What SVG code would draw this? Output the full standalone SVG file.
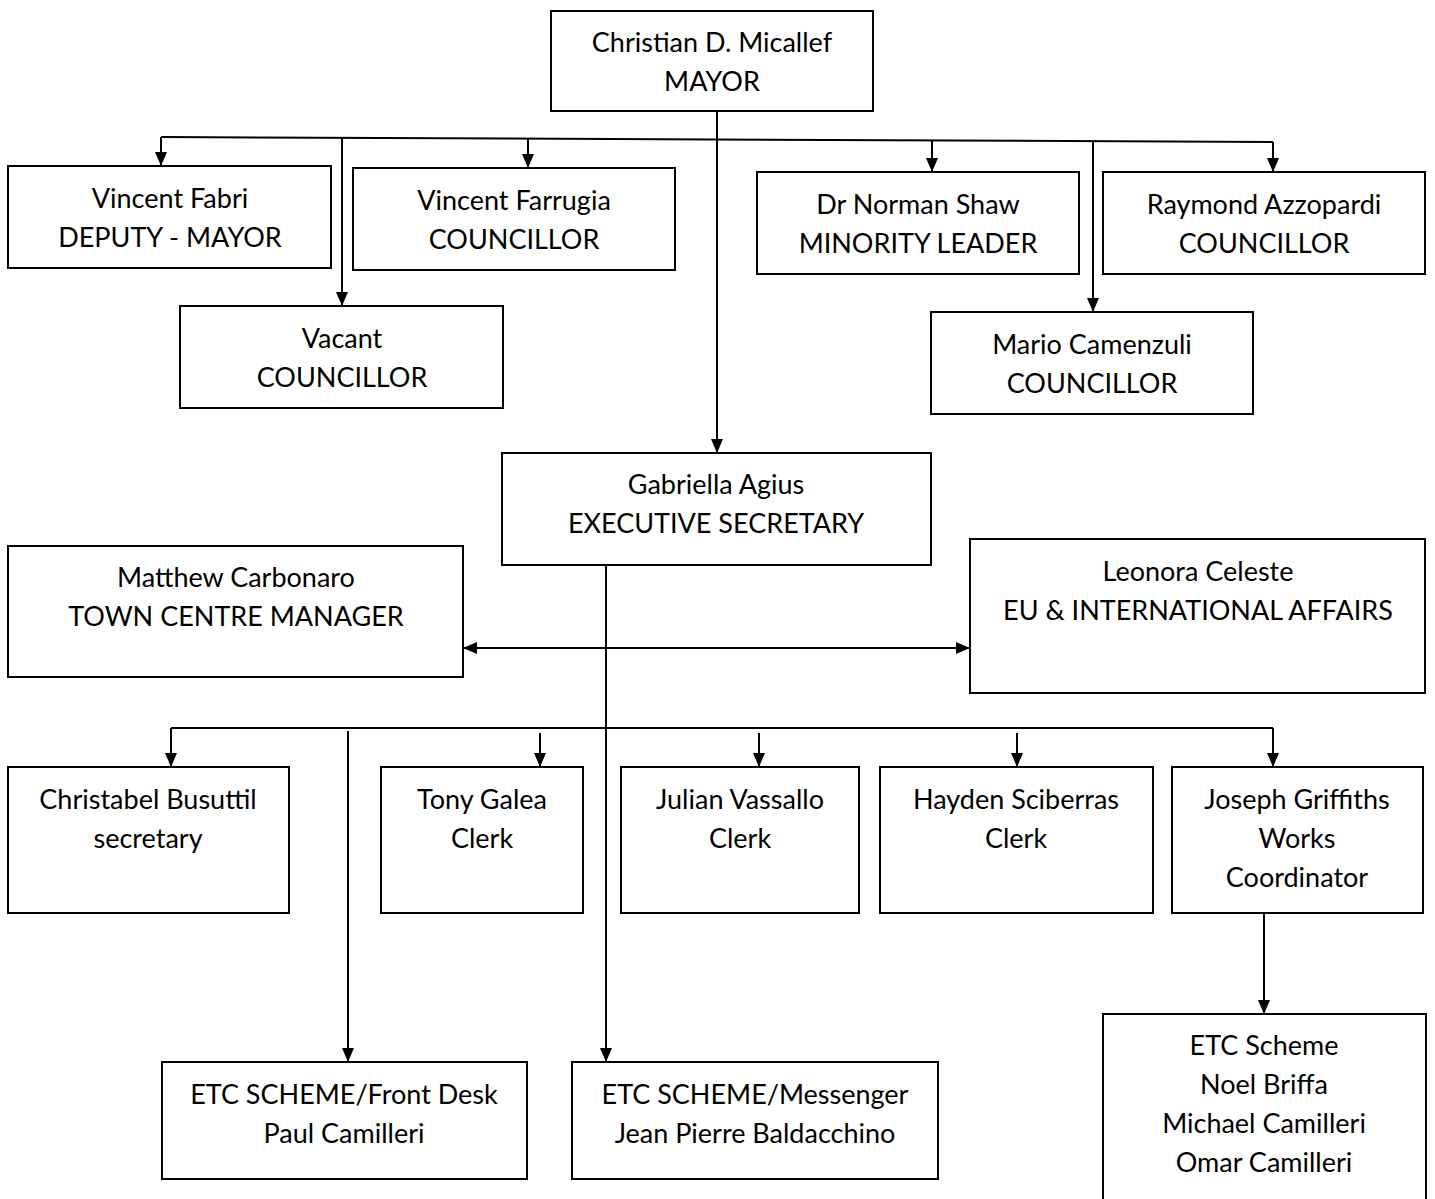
<svg xmlns="http://www.w3.org/2000/svg" width="1435" height="1199" viewBox="0 0 1435 1199">
<style>
.box{fill:#fff;stroke:#000;stroke-width:2}
.t{font-family:Lato,"Liberation Sans",sans-serif;font-size:27px;fill:#000;text-anchor:middle}
.c{stroke:#000;stroke-width:2;fill:none}
.a{marker-end:url(#ah)}
.b{marker-start:url(#ahs);marker-end:url(#ah)}
</style>
<defs>
<marker id="ah" markerUnits="userSpaceOnUse" markerWidth="14" markerHeight="12" refX="14" refY="6" orient="auto"><path d="M0,0 L14,6 L0,12 z" fill="#000"/></marker>
<marker id="ahs" markerUnits="userSpaceOnUse" markerWidth="14" markerHeight="12" refX="0" refY="6" orient="auto"><path d="M14,0 L0,6 L14,12 z" fill="#000"/></marker>
</defs>
<rect width="1435" height="1199" fill="#fff"/>
<g id="connectors">
<path class="c a" d="M717,111 V453"/>
<path class="c" d="M161,137 L1273,142"/>
<path class="c a" d="M161,137 V166"/>
<path class="c a" d="M342,138 V306"/>
<path class="c a" d="M528,139 V168"/>
<path class="c a" d="M932,140 V172"/>
<path class="c a" d="M1093,141 V312"/>
<path class="c a" d="M1273,142 V172"/>
<path class="c a" d="M606,565 V1062"/>
<path class="c b" d="M463,648 H970"/>
<path class="c" d="M171,728 H1273"/>
<path class="c a" d="M171,728 V767"/>
<path class="c a" d="M348,731 V1062"/>
<path class="c a" d="M540,733 V767"/>
<path class="c a" d="M759,733 V767"/>
<path class="c a" d="M1017,733 V767"/>
<path class="c a" d="M1273,728 V767"/>
<path class="c a" d="M1264,913 V1014"/>
</g>
<g id="mayor"><rect class="box" x="551" y="11" width="322" height="100"/><text class="t" x="712" y="52">Christian D. Micallef</text><text class="t" x="712" y="91">MAYOR</text></g>
<g id="fabri"><rect class="box" x="8" y="166" width="323" height="102"/><text class="t" x="170" y="208">Vincent Fabri</text><text class="t" x="170" y="247">DEPUTY - MAYOR</text></g>
<g id="farrugia"><rect class="box" x="353" y="168" width="322" height="102"/><text class="t" x="514" y="210">Vincent Farrugia</text><text class="t" x="514" y="249">COUNCILLOR</text></g>
<g id="vacant"><rect class="box" x="180" y="306" width="323" height="102"/><text class="t" x="342" y="348">Vacant</text><text class="t" x="342" y="387">COUNCILLOR</text></g>
<g id="shaw"><rect class="box" x="757" y="172" width="322" height="102"/><text class="t" x="918" y="214">Dr Norman Shaw</text><text class="t" x="918" y="253">MINORITY LEADER</text></g>
<g id="azzopardi"><rect class="box" x="1103" y="172" width="322" height="102"/><text class="t" x="1264" y="214">Raymond Azzopardi</text><text class="t" x="1264" y="253">COUNCILLOR</text></g>
<g id="camenzuli"><rect class="box" x="931" y="312" width="322" height="102"/><text class="t" x="1092" y="354">Mario Camenzuli</text><text class="t" x="1092" y="393">COUNCILLOR</text></g>
<g id="agius"><rect class="box" x="502" y="453" width="429" height="112"/><text class="t" x="716" y="494">Gabriella Agius</text><text class="t" x="716" y="533">EXECUTIVE SECRETARY</text></g>
<g id="carbonaro"><rect class="box" x="8" y="546" width="455" height="131"/><text class="t" x="236" y="587">Matthew Carbonaro</text><text class="t" x="236" y="626">TOWN CENTRE MANAGER</text></g>
<g id="celeste"><rect class="box" x="970" y="539" width="455" height="154"/><text class="t" x="1198" y="581">Leonora Celeste</text><text class="t" x="1198" y="620">EU &amp; INTERNATIONAL AFFAIRS</text></g>
<g id="busuttil"><rect class="box" x="8" y="767" width="281" height="146"/><text class="t" x="148" y="809">Christabel Busuttil</text><text class="t" x="148" y="848">secretary</text></g>
<g id="galea"><rect class="box" x="381" y="767" width="202" height="146"/><text class="t" x="482" y="809">Tony Galea</text><text class="t" x="482" y="848">Clerk</text></g>
<g id="vassallo"><rect class="box" x="621" y="767" width="238" height="146"/><text class="t" x="740" y="809">Julian Vassallo</text><text class="t" x="740" y="848">Clerk</text></g>
<g id="sciberras"><rect class="box" x="880" y="767" width="273" height="146"/><text class="t" x="1016" y="809">Hayden Sciberras</text><text class="t" x="1016" y="848">Clerk</text></g>
<g id="griffiths"><rect class="box" x="1172" y="767" width="251" height="146"/><text class="t" x="1297" y="809">Joseph Griffiths</text><text class="t" x="1297" y="848">Works</text><text class="t" x="1297" y="887">Coordinator</text></g>
<g id="frontdesk"><rect class="box" x="162" y="1062" width="365" height="117"/><text class="t" x="344" y="1104">ETC SCHEME/Front Desk</text><text class="t" x="344" y="1143">Paul Camilleri</text></g>
<g id="messenger"><rect class="box" x="572" y="1062" width="366" height="117"/><text class="t" x="755" y="1104">ETC SCHEME/Messenger</text><text class="t" x="755" y="1143">Jean Pierre Baldacchino</text></g>
<g id="etcscheme"><rect class="box" x="1103" y="1014" width="323" height="200"/><text class="t" x="1264" y="1055">ETC Scheme</text><text class="t" x="1264" y="1094">Noel Briffa</text><text class="t" x="1264" y="1133">Michael Camilleri</text><text class="t" x="1264" y="1172">Omar Camilleri</text></g>
</svg>
